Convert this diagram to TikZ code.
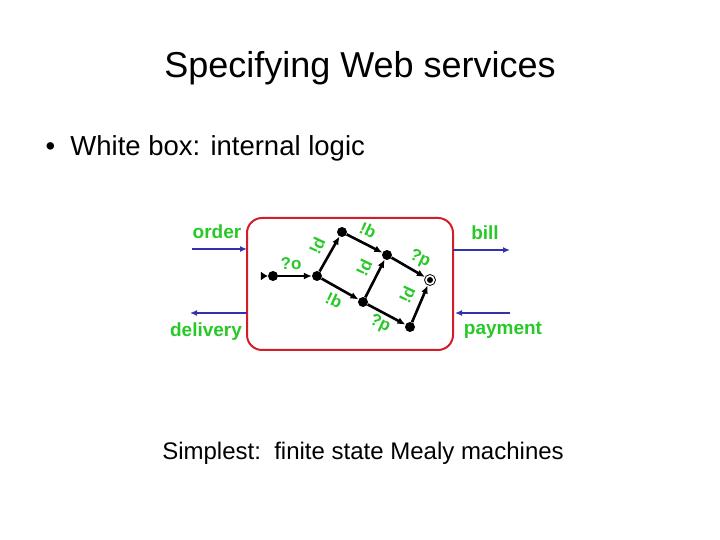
\documentclass[tikz,border=0pt]{standalone}
\usepackage{fontspec}
\setmainfont{Liberation Sans}
\usetikzlibrary{arrows.meta}
\begin{document}
\begin{tikzpicture}[x=1pt,y=1pt,
 st/.style={circle,fill=black,inner sep=0pt,minimum size=10pt},
 tr/.style={-{Latex[length=8pt,width=7pt]},line width=2.6pt},
 io/.style={-{Latex[length=7pt,width=6pt]},line width=2.6pt,draw={rgb,255:red,50;green,50;blue,170}},
 lb/.style={text={rgb,255:red,40;green,200;blue,40},font=\bfseries\fontsize{17}{17}\selectfont,inner sep=0pt},
 iol/.style={text={rgb,255:red,40;green,200;blue,40},font=\bfseries\fontsize{19}{19}\selectfont,inner sep=0pt}]
\useasboundingbox (0,0) rectangle (720,540);
\node (title) at (360,472) {\fontsize{36}{36}\selectfont Specifying Web services};
\node[anchor=west] (bul) at (42,392) {\fontsize{27.5}{27.5}\selectfont •\ \ White box: internal logic};
\node (bot) at (363,87) {\fontsize{24}{24}\selectfont Simplest:\ \ finite state Mealy machines};
\draw[line width=2pt,draw={rgb,255:red,210;green,30;blue,40},rounded corners=15pt] (247,322) rectangle (453,190);
\coordinate (bl) at (247,291); \coordinate (ol) at (192,291);
\coordinate (br) at (453,290); \coordinate (or) at (510,290);
\coordinate (dl) at (247,227); \coordinate (dol) at (190,227);
\coordinate (pr) at (510,227); \coordinate (pi) at (455,227);
\draw[io] (ol) -- (bl); \draw[io] (br) -- (or);
\draw[io] (dl) -- (dol); \draw[io] (pr) -- (pi);
\node[iol] (order) at (217,308) {order};
\node[iol] (delivery) at (206,208) {delivery};
\node[iol] (bill) at (485,307) {bill};
\node[iol] (payment) at (503,210) {payment};
\node[st] (s0) at (273,264) {};
\node[st] (s1) at (317,264) {};
\node[st] (s2) at (342,308) {};
\node[st] (s3) at (387,285) {};
\node[st] (s4) at (363,238) {};
\node[st] (s5) at (410,213) {};
\node[circle,draw,fill=white,line width=0.8pt,minimum size=11pt,inner sep=0pt] (f) at (430,260) {};
\node[st,minimum size=6pt] (fi) at (f) {};
\coordinate (start) at (261,264);
\draw[-{Latex[length=7pt,width=9pt]},line width=1pt] (start) -- (s0);
\draw[tr] (s0) -- (s1);
\draw[tr] (s1) -- (s2);
\draw[tr] (s2) -- (s3);
\draw[tr] (s1) -- (s4);
\draw[tr] (s4) -- (s3);
\draw[tr] (s3) -- (f);
\draw[tr] (s4) -- (s5);
\draw[tr] (s5) -- (f);
\node[lb] (l1) at (291,276) {?o};
\node[lb,rotate=65] (l2) at (317,294) {!d};
\node[lb,rotate=-25] (l3) at (368,310) {!b};
\node[lb,rotate=65] (l4) at (364,272) {!d};
\node[lb,rotate=-25] (l5) at (420,281) {?p};
\node[lb,rotate=-25] (l6) at (334,240) {!b};
\node[lb,rotate=-25] (l7) at (380,216) {?p};
\node[lb,rotate=65] (l8) at (407,245) {!d};
\end{tikzpicture}
\end{document}
